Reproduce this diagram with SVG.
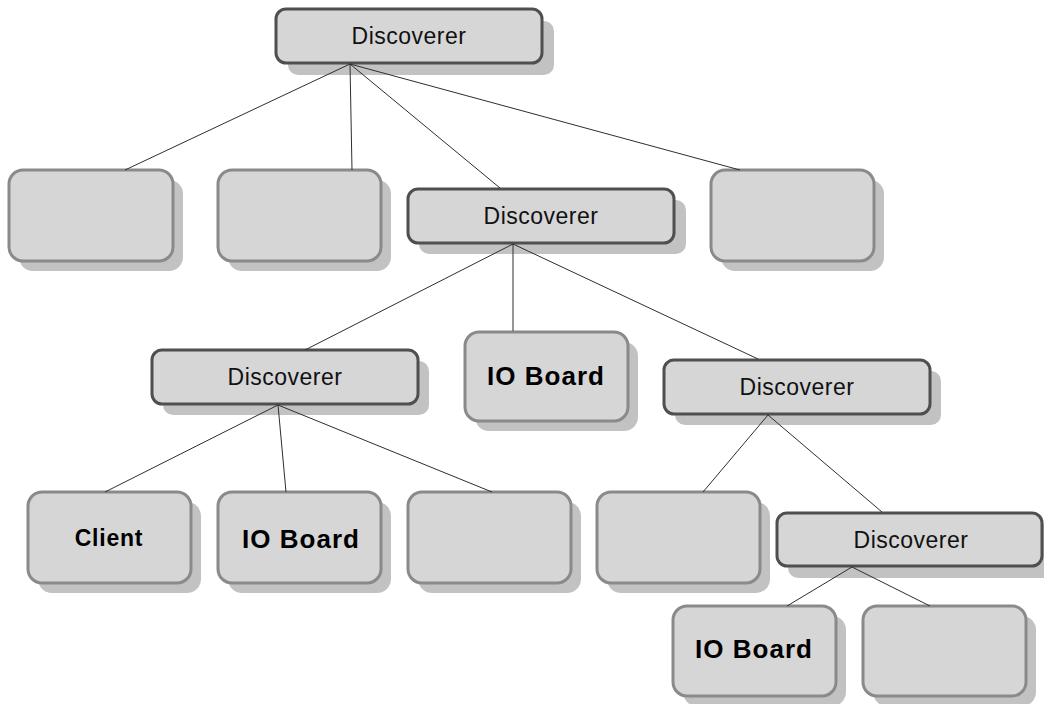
<svg xmlns="http://www.w3.org/2000/svg" width="1044" height="704" viewBox="0 0 1044 704">
  <style>
    .shadow { fill: #c2c2c2; }
    .disc { fill: #d6d6d6; stroke: #4f4f4f; stroke-width: 3; }
    .leaf { fill: #d6d6d6; stroke: #8a8a8a; stroke-width: 3; }
    .edge { stroke: #2e2e2e; stroke-width: 1; fill: none; }
    .lbl { font-family: "Liberation Sans", Arial, sans-serif; font-size: 23px; fill: #111; text-anchor: middle; letter-spacing: 0.5px; }
    .big { font-family: "Liberation Sans", Arial, sans-serif; font-size: 26px; font-weight: bold; fill: #000; text-anchor: middle; letter-spacing: 1px; }
    .client { font-family: "Liberation Sans", Arial, sans-serif; font-size: 23px; font-weight: bold; fill: #000; text-anchor: middle; letter-spacing: 0.8px; }
  </style>
  <rect width="1044" height="704" fill="#ffffff"/>

  <!-- Discoverer (root) -->
  <g id="disc-root">
    <rect class="shadow" x="288" y="21" width="266" height="54" rx="10"/>
    <rect class="disc" x="276" y="9" width="266" height="54" rx="10"/>
    <text class="lbl" x="409" y="44">Discoverer</text>
  </g>

  <g id="leaf-a">
    <rect class="shadow" x="19" y="180" width="164" height="91" rx="14"/>
    <rect class="leaf" x="9" y="170" width="164" height="91" rx="14"/>
  </g>
  <g id="leaf-b">
    <rect class="shadow" x="228" y="180" width="163" height="91" rx="14"/>
    <rect class="leaf" x="218" y="170" width="163" height="91" rx="14"/>
  </g>

  <g id="disc-2">
    <rect class="shadow" x="419" y="200" width="267" height="54" rx="10"/>
    <rect class="disc" x="408" y="189" width="266" height="54" rx="10"/>
    <text class="lbl" x="541" y="224">Discoverer</text>
  </g>

  <g id="leaf-c">
    <rect class="shadow" x="721" y="180" width="163" height="91" rx="14"/>
    <rect class="leaf" x="711" y="170" width="163" height="91" rx="14"/>
  </g>

  <g id="disc-3">
    <rect class="shadow" x="163" y="361" width="266" height="54" rx="10"/>
    <rect class="disc" x="152" y="350" width="266" height="54" rx="10"/>
    <text class="lbl" x="285" y="385">Discoverer</text>
  </g>

  <g id="io-board-1">
    <rect class="shadow" x="475" y="342" width="163" height="89" rx="14"/>
    <rect class="leaf" x="465" y="332" width="163" height="89" rx="14"/>
    <text class="big" x="546" y="385">IO Board</text>
  </g>

  <g id="disc-4">
    <rect class="shadow" x="675" y="371" width="266" height="54" rx="10"/>
    <rect class="disc" x="664" y="360" width="266" height="54" rx="10"/>
    <text class="lbl" x="797" y="395">Discoverer</text>
  </g>

  <g id="client">
    <rect class="shadow" x="38" y="502" width="163" height="91" rx="14"/>
    <rect class="leaf" x="28" y="492" width="163" height="91" rx="14"/>
    <text class="client" x="109" y="546">Client</text>
  </g>

  <g id="io-board-2">
    <rect class="shadow" x="228" y="502" width="163" height="91" rx="14"/>
    <rect class="leaf" x="218" y="492" width="163" height="91" rx="14"/>
    <text class="big" x="301" y="548">IO Board</text>
  </g>

  <g id="leaf-d">
    <rect class="shadow" x="418" y="502" width="163" height="91" rx="14"/>
    <rect class="leaf" x="408" y="492" width="163" height="91" rx="14"/>
  </g>

  <g id="leaf-e">
    <rect class="shadow" x="607" y="502" width="163" height="91" rx="14"/>
    <rect class="leaf" x="597" y="492" width="163" height="91" rx="14"/>
  </g>

  <g id="disc-5">
    <rect class="shadow" x="788" y="524" width="266" height="54" rx="10"/>
    <rect class="disc" x="777" y="513" width="265" height="53" rx="10"/>
    <text class="lbl" x="911" y="548">Discoverer</text>
  </g>

  <g id="io-board-3">
    <rect class="shadow" x="683" y="616" width="163" height="90" rx="14"/>
    <rect class="leaf" x="673" y="606" width="163" height="90" rx="14"/>
    <text class="big" x="754" y="658">IO Board</text>
  </g>

  <g id="leaf-f">
    <rect class="shadow" x="873" y="616" width="163" height="90" rx="14"/>
    <rect class="leaf" x="863" y="606" width="163" height="90" rx="14"/>
  </g>

  <!-- connectors, drawn over the drop shadows -->
  <g id="connectors">
    <line class="edge" x1="350" y1="64" x2="125" y2="170"/>
    <line class="edge" x1="350" y1="64" x2="352" y2="170"/>
    <line class="edge" x1="350" y1="64" x2="500" y2="188"/>
    <line class="edge" x1="350" y1="64" x2="740" y2="170"/>
    <line class="edge" x1="513" y1="244" x2="305" y2="350"/>
    <line class="edge" x1="513" y1="244" x2="513" y2="331"/>
    <line class="edge" x1="513" y1="244" x2="758" y2="359"/>
    <line class="edge" x1="278" y1="405" x2="105" y2="492"/>
    <line class="edge" x1="278" y1="405" x2="286" y2="492"/>
    <line class="edge" x1="278" y1="405" x2="492" y2="492"/>
    <line class="edge" x1="768" y1="415" x2="703" y2="492"/>
    <line class="edge" x1="768" y1="415" x2="882" y2="512"/>
    <line class="edge" x1="852" y1="567" x2="787" y2="606"/>
    <line class="edge" x1="852" y1="567" x2="930" y2="606"/>
  </g>
</svg>
